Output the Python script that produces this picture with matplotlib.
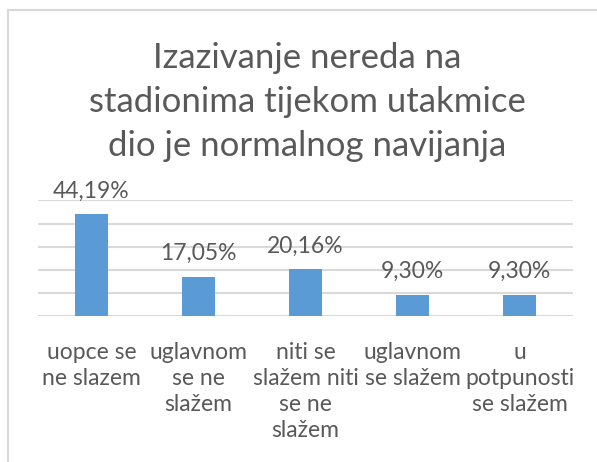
import matplotlib.pyplot as plt
from matplotlib.lines import Line2D

categories = ["uopce se\nne slazem", "uglavnom\nse ne\nslažem", "niti se\nslažem niti\nse ne\nslažem",
              "uglavnom\nse slažem", "u\npotpunosti\nse slažem"]
values = [44.19, 17.05, 20.16, 9.30, 9.30]
value_labels = ["44,19%", "17,05%", "20,16%", "9,30%", "9,30%"]
title = "Izazivanje nereda na\nstadionima tijekom utakmice\ndio je normalnog navijanja"

text_color = "#595959"
bar_color = "#5B9BD5"
grid_color = "#D9D9D9"

plt.rcParams['font.family'] = ['Lato', 'DejaVu Sans']

fig = plt.figure(figsize=(5.97, 4.62), dpi=100)
ax = fig.add_axes([38 / 597, 146 / 462, 535 / 597, 115.5 / 462])

x = list(range(len(values)))
ax.bar(x, values, width=0.31, color=bar_color, zorder=3)
ax.set_xlim(-0.5, len(values) - 0.5)
ax.set_ylim(0, 50)
ax.set_yticks([0, 10, 20, 30, 40, 50])
ax.yaxis.grid(True, color=grid_color, linewidth=1.5)
ax.tick_params(axis='y', left=False, labelleft=False)
ax.tick_params(axis='x', bottom=False, pad=15)
ax.set_xticks(x)
ax.set_xticklabels(categories, fontsize=16.5, color=text_color, linespacing=1.3)
for s in ax.spines.values():
    s.set_visible(False)

for xi, v, lab in zip(x, values, value_labels):
    ax.annotate(lab, (xi, v), xytext=(0, 9), textcoords='offset points',
                ha='center', va='bottom', fontsize=16.5, color=text_color)

fig.text(307 / 597, 1 - 102 / 462, title, ha='center', va='center', fontsize=25,
         color=text_color, linespacing=1.45)

# chart frame (cropped at the right and bottom)
fig.add_artist(Line2D([8 / 597, 1], [1 - 10 / 462, 1 - 10 / 462], transform=fig.transFigure,
                      color=grid_color, linewidth=1.5))
fig.add_artist(Line2D([8 / 597, 8 / 597], [0, 1 - 10 / 462], transform=fig.transFigure,
                      color=grid_color, linewidth=1.5))

fig.savefig("out.png", dpi=100)
